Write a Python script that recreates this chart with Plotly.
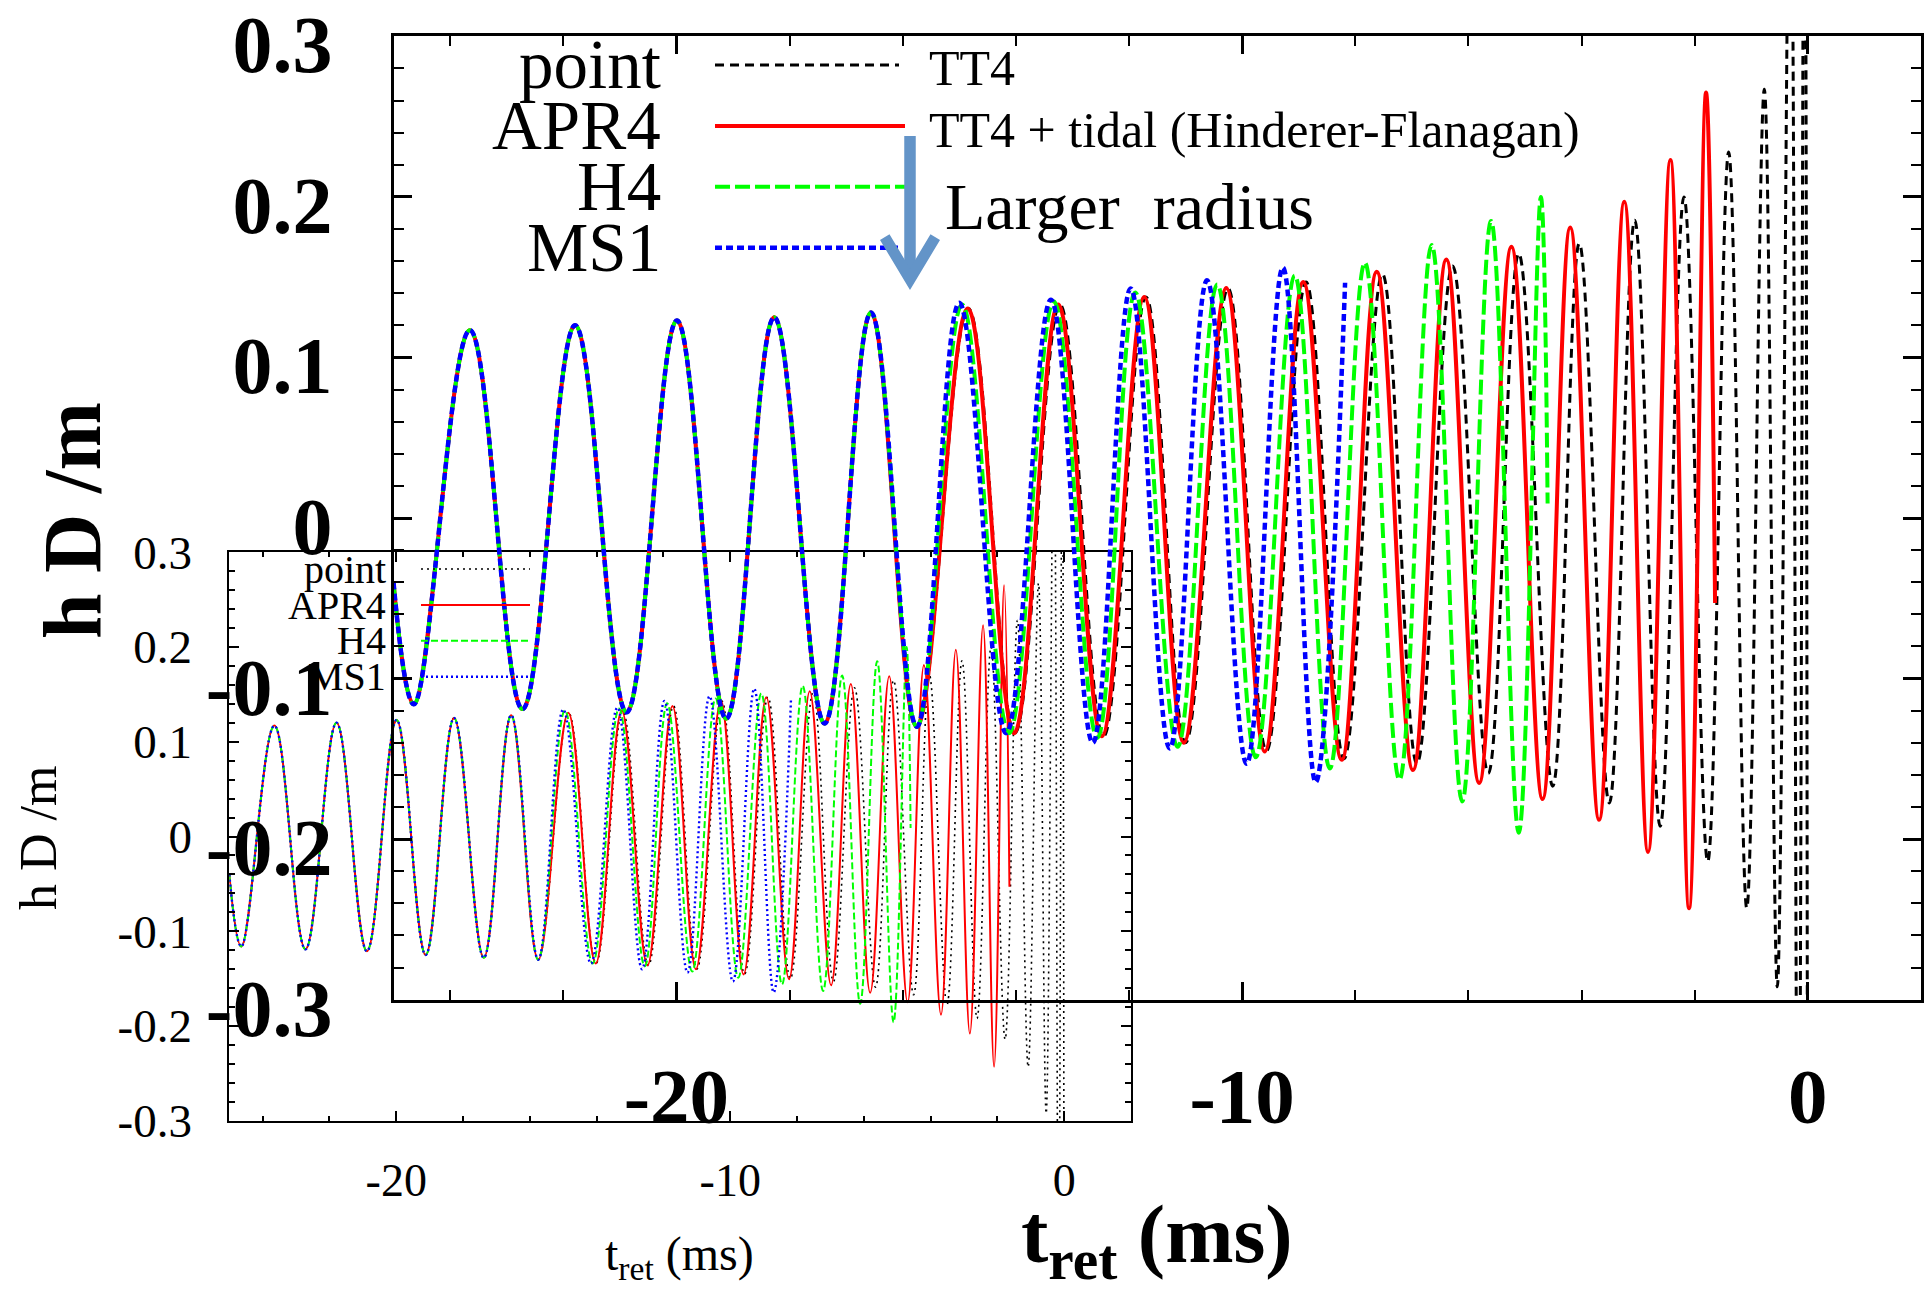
import plotly.graph_objects as go

W, H = 1930, 1292

# ---------------- data (turning points of h D/m) ----------------
# retarded time t_ret [ms]; early inspiral is common to all four curves
t_early = [-25.0, -24.64, -23.65, -22.72, -21.79, -20.88, -19.99, -19.12, -18.27, -17.38, -16.56, -15.75]
h_early = [-0.040, -0.116, 0.117, -0.119, 0.120, -0.121, 0.123, -0.125, 0.125, -0.128, 0.128, -0.130]

# "point" (TT4, point particle)
t_point_late = [-14.84, -14.02, -13.22, -12.45, -11.70, -11.00, -10.25, -9.57, -8.87, -8.20,
                -7.52, -6.91, -6.28, -5.65, -5.11, -4.51, -4.04, -3.51, -3.06, -2.61,
                -2.19, -1.77, -1.40, -1.08, -0.77, -0.54, -0.31, -0.17, -0.06, -0.01]
h_point_late = [0.1305, -0.134, 0.133, -0.136, 0.1377, -0.140, 0.143, -0.145, 0.147, -0.150,
                0.152, -0.153, 0.157, -0.159, 0.1647, -0.167, 0.171, -0.1775, 0.1854, -0.192,
                0.200, -0.214, 0.228, -0.243, 0.267, -0.292, 0.45, -0.50, 0.50, -0.30]

# APR4 (TT4 + tidal)
t_apr4_late = [-14.85, -14.03, -13.25, -12.48, -11.73, -11.03, -10.28, -9.60, -8.92, -8.24,
               -7.62, -6.98, -6.39, -5.81, -5.24, -4.69, -4.20, -3.69, -3.245, -2.825,
               -2.43, -2.10, -1.80, -1.64]
h_apr4_late = [0.1305, -0.134, 0.133, -0.136, 0.1377, -0.140, 0.1433, -0.1455, 0.147, -0.1506,
               0.1533, -0.157, 0.161, -0.165, 0.169, -0.175, 0.181, -0.188, 0.197, -0.208,
               0.223, -0.243, 0.265, -0.053]

# H4
t_h4_late = [-14.95, -14.12, -13.33, -12.56, -11.89, -11.14, -10.44, -9.76, -9.07, -8.45,
             -7.83, -7.22, -6.65, -6.11, -5.60, -5.11, -4.72, -4.60]
h_h4_late = [0.133, -0.134, 0.135, -0.137, 0.1405, -0.1425, 0.1455, -0.149, 0.151, -0.156,
             0.159, -0.163, 0.170, -0.1765, 0.185, -0.196, 0.200, 0.009]

# MS1
t_ms1_late = [-15.0, -14.17, -13.38, -12.64, -11.97, -11.28, -10.62, -9.92, -9.28, -8.70, -8.18]
h_ms1_late = [0.134, -0.134, 0.136, -0.140, 0.143, -0.1435, 0.148, -0.153, 0.156, -0.1645, 0.1465]

series_names = ["point", "APR4", "H4", "MS1"]
main_legend_notes = ["TT4", "TT4 + tidal (Hinderer-Flanagan)"]
arrow_note = "Larger\u00a0 radius"

x_tickvals = [-20, -10, 0]
x_ticktext = ["-20", "-10", "0"]
y_tickvals = [-0.3, -0.2, -0.1, 0, 0.1, 0.2, 0.3]
y_ticktext = ["-0.3", "-0.2", "-0.1", "0", "0.1", "0.2", "0.3"]
x_range = [-25, 2]
y_range = [-0.3002, 0.3002]

# ---------------- styling ----------------
SERIF = "Liberation Serif"
colors = {"point": "#000000", "APR4": "#ff0000", "H4": "#00ff00", "MS1": "#0000ff"}
main_style = {"point": dict(width=3, dash="9px,6px"), "APR4": dict(width=4, dash="solid"),
              "H4": dict(width=4, dash="15px,5px"), "MS1": dict(width=4.5, dash="7px,4px")}
inset_style = {"point": dict(width=1.6, dash="2px,4px"), "APR4": dict(width=2, dash="solid"),
               "H4": dict(width=2, dash="7px,3px"), "MS1": dict(width=2.4, dash="2px,3px")}

data = {
    "point": (t_early + t_point_late, h_early + h_point_late),
    "APR4": (t_early + t_apr4_late, h_early + h_apr4_late),
    "H4": (t_early + t_h4_late, h_early + h_h4_late),
    "MS1": (t_early + t_ms1_late, h_early + h_ms1_late),
}


def px(x):
    return x / W


def py(y):
    return 1 - y / H


fig = go.Figure()

# inset (drawn first, underneath)
for name in series_names:
    t, h = data[name]
    fig.add_trace(go.Scatter(x=t, y=h, mode="lines", name=name, xaxis="x", yaxis="y",
                             line=dict(color=colors[name], shape="spline", smoothing=1.1,
                                       **inset_style[name]),
                             hoverinfo="skip"))
# main plot
for name in series_names:
    t, h = data[name]
    fig.add_trace(go.Scatter(x=t, y=h, mode="lines", name=name, xaxis="x2", yaxis="y2",
                             line=dict(color=colors[name], shape="spline", smoothing=1.1,
                                       **main_style[name]),
                             hoverinfo="skip"))


def axis(domain, anchor, tickvals, ticktext, font_size, bold, lw, tl, tw, mtl, mtw, mdtick,
         standoff, shift=0):
    return dict(
        domain=domain, anchor=anchor, showgrid=False, zeroline=False, automargin=False,
        showline=True, linecolor="black", linewidth=lw, mirror="ticks",
        ticks="inside", ticklen=tl, tickwidth=tw, tickcolor="black",
        tickmode="array", tickvals=tickvals, ticktext=ticktext,
        tickfont=dict(family=SERIF, size=font_size, color="black",
                      weight="bold" if bold else "normal"),
        ticklabelstandoff=standoff, ticklabelshift=shift, ticklabeloverflow="allow",
        minor=dict(ticks="inside", tickmode="linear", tick0=0, dtick=mdtick,
                   ticklen=mtl, tickwidth=mtw, tickcolor="black", showgrid=False),
    )


fig.update_layout(
    width=W, height=H, template="none",
    margin=dict(l=0, r=0, t=0, b=0, pad=0),
    paper_bgcolor="white", plot_bgcolor="rgba(0,0,0,0)", showlegend=False,
    xaxis=dict(range=x_range, **axis([px(229.3), px(1131)], "y", x_tickvals, x_ticktext,
                                     46, False, 2, 10, 2, 5, 1.5, 2, 18)),
    yaxis=dict(range=y_range, **axis([py(1121), py(552)], "x", y_tickvals, y_ticktext,
                                     47, False, 2, 10, 2, 6, 1.5, 0.02, 26)),
    xaxis2=dict(range=x_range, **axis([px(393.5), px(1921)], "y2", x_tickvals, x_ticktext,
                                      79, True, 3, 18, 3, 10, 2, 2, 25)),
    yaxis2=dict(range=y_range, **axis([py(1000), py(36)], "x2", y_tickvals, y_ticktext,
                                      80, True, 3, 18, 3, 10, 2, 0.02, 42, 8)),
)

ann = []
# axis titles
ann.append(dict(text="<b>h D /m</b>", x=px(72), y=py(521), textangle=-90,
                font=dict(family=SERIF, size=82, color="black")))
ann.append(dict(text="<b>t<sub>ret</sub> (ms)</b>", x=px(1157), y=py(1240),
                font=dict(family=SERIF, size=82, color="black")))
ann.append(dict(text="h D /m", x=px(38), y=py(838), textangle=-90,
                font=dict(family=SERIF, size=52, color="black")))
ann.append(dict(text="t<sub>ret</sub> (ms)", x=px(679), y=py(1257),
                font=dict(family=SERIF, size=48, color="black")))

# main legend
main_leg_y = [65, 126, 186.7, 247.7]
inset_leg_y = [569, 605, 640.7, 676.7]
for name, yy in zip(series_names, main_leg_y):
    ann.append(dict(text=name, x=px(663), y=py(yy), xanchor="right",
                    font=dict(family=SERIF, size=69, color="black")))
for note, yy in zip(main_legend_notes, [68, 130]):
    ann.append(dict(text=note, x=px(927), y=py(yy), xanchor="left",
                    font=dict(family=SERIF, size=50, color="black")))
ann.append(dict(text=arrow_note, x=px(943), y=py(206), xanchor="left",
                font=dict(family=SERIF, size=66, color="black")))
# inset legend
for name, yy in zip(series_names, inset_leg_y):
    ann.append(dict(text=name, x=px(388), y=py(yy), xanchor="right",
                    font=dict(family=SERIF, size=40, color="black")))

for a in ann:
    a.setdefault("xanchor", "center")
    a.update(xref="paper", yref="paper", showarrow=False, yanchor="middle")
fig.update_layout(annotations=ann)

shapes = []
for name, yy, x1 in zip(series_names, main_leg_y, [899, 905, 905, 900]):
    shapes.append(dict(type="line", xref="paper", yref="paper", x0=px(715), x1=px(x1),
                       y0=py(yy), y1=py(yy),
                       line=dict(color=colors[name], **main_style[name])))
for name, yy in zip(series_names, inset_leg_y):
    shapes.append(dict(type="line", xref="paper", yref="paper", x0=px(421), x1=px(530),
                       y0=py(yy), y1=py(yy),
                       line=dict(color=colors[name], **inset_style[name])))
# arrow "Larger radius"
ARROW = "#6394c8"
shapes.append(dict(type="line", xref="paper", yref="paper", x0=px(910), x1=px(910),
                   y0=py(136), y1=py(272), line=dict(color=ARROW, width=11.5)))
head = [(880, 240), (910, 290), (940, 240), (930.5, 234.3), (910, 268.5), (889.5, 234.3)]
path = "M" + " L".join(f"{px(a):.5f},{py(b):.5f}" for a, b in head) + " Z"
shapes.append(dict(type="path", xref="paper", yref="paper", path=path,
                   fillcolor=ARROW, line=dict(width=0)))
fig.update_layout(shapes=shapes)

fig.write_html("out.html", config={"displayModeBar": False})
